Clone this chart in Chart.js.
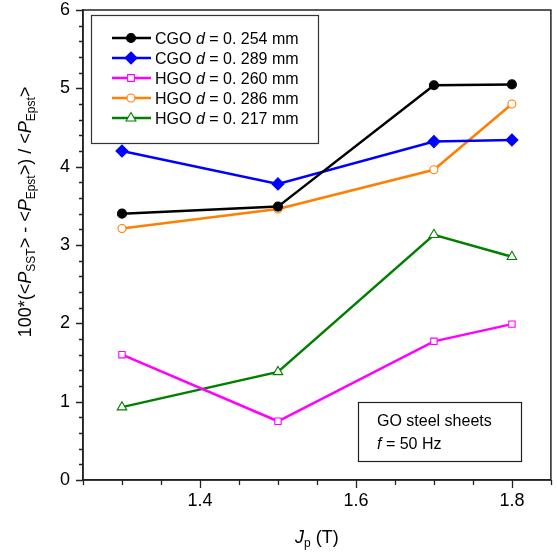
<!DOCTYPE html>
<html>
<head>
<meta charset="utf-8">
<script src="https://cdn.jsdelivr.net/npm/chart.js@4/dist/chart.umd.min.js"></script>
<style>
  html, body { margin: 0; padding: 0; background: #fff; }
  #wrap { width: 558px; height: 557px; }
</style>
</head>
<body>
<div id="wrap"><canvas id="chart-canvas" width="558" height="557"></canvas></div>
<script>
// field values (T)
const jp = [1.3, 1.5, 1.7, 1.8];

// 100*(<P_SST> - <P_Epst>) / <P_Epst>
const cgo254 = [3.40, 3.49, 5.04, 5.05];
const cgo289 = [4.20, 3.78, 4.32, 4.34];
const hgo260 = [1.60, 0.75, 1.77, 1.99];
const hgo286 = [3.21, 3.46, 3.96, 4.80];
const hgo217 = [0.93, 1.38, 3.13, 2.85];

const seriesLabels = ["CGO|0. 254 mm", "CGO|0. 289 mm", "HGO|0. 260 mm", "HGO|0. 286 mm", "HGO|0. 217 mm"];
const xTickLabels = [1.4, 1.6, 1.8];
const yTickLabels = [0, 1, 2, 3, 4, 5, 6];

const FONT = "'Liberation Sans', Arial, sans-serif";

const toPoints = (ys) => {
  return ys.map((y, i) => {
    return { x: jp[i], y: y };
  });
};

const makeSet = (values, label, color, style, filled, radius) => {
  return {
    data: toPoints(values),
    label: label,
    borderColor: color,
    backgroundColor: color,
    borderWidth: 2.5,
    pointStyle: style,
    pointRadius: radius,
    pointBorderWidth: 1.1,
    pointBackgroundColor: filled ? color : "#fff",
    pointBorderColor: color,
    fill: false,
    tension: 0,
  };
};

const near = (v, list) => list.some((t) => Math.abs(v - t) < 1e-6);

// draw text pieces: [text, italic, sub]
const drawRich = (ctx, parts, size, subSize) => {
  let x = 0;
  parts.forEach((p) => {
    let [txt, it, sub] = p;
    ctx.font = (it ? "italic " : "") + (sub ? subSize : size) + "px " + FONT;
    ctx.fillText(txt, x, sub ? 4 : 0);
    x += ctx.measureText(txt).width;
  });
  return x;
};
const measureRich = (ctx, parts, size, subSize) => {
  let w = 0;
  parts.forEach((p) => {
    ctx.font = (p[1] ? "italic " : "") + (p[2] ? subSize : size) + "px " + FONT;
    w += ctx.measureText(p[0]).width;
  });
  return w;
};

const drawShape = (ctx, style, r, x, y) => {
  if (style === "circle") {
    ctx.arc(x, y, r, 0, Math.PI * 2);
  } else if (style === "rect") {
    ctx.rect(x - r * 0.75, y - r * 0.75, r * 1.5, r * 1.5);
  } else if (style === "rectRot") {
    ctx.moveTo(x, y - r);
    ctx.lineTo(x + r, y);
    ctx.lineTo(x, y + r);
    ctx.lineTo(x - r, y);
    ctx.closePath();
  } else if (style === "triangle") {
    ctx.moveTo(x, y - r);
    ctx.lineTo(x + r * 0.9, y + r * 0.55);
    ctx.lineTo(x - r * 0.9, y + r * 0.55);
    ctx.closePath();
  }
};

const decorPlugin = {
  id: "decor",
  afterDraw(chart) {
    const ctx = chart.ctx;
    const a = chart.chartArea;
    const xs = chart.scales.x;
    const ys = chart.scales.y;
    ctx.save();
    // frame
    ctx.strokeStyle = "#222";
    ctx.lineWidth = 1.5;
    ctx.strokeRect(a.left, a.top, a.right - a.left, a.bottom - a.top);

    // tick marks, long on labelled values
    ctx.lineWidth = 1.3;
    ctx.beginPath();
    xs.ticks.forEach((t) => {
      const px = Math.round(xs.getPixelForValue(t.value)) + 0.5;
      const len = near(t.value, xTickLabels) ? 8 : 5;
      ctx.moveTo(px, a.bottom);
      ctx.lineTo(px, a.bottom + len);
    });
    ys.ticks.forEach((t) => {
      const py = Math.round(ys.getPixelForValue(t.value)) + 0.5;
      const len = near(t.value, yTickLabels) ? 7 : 4;
      ctx.moveTo(a.left, py);
      ctx.lineTo(a.left - len, py);
    });
    ctx.stroke();

    ctx.fillStyle = "#000";
    ctx.textAlign = "left";
    ctx.textBaseline = "alphabetic";

    // x title
    const xt = [["J", true, false], ["p", false, true], [" (T)", false, false]];
    const xw = measureRich(ctx, xt, 18, 12);
    ctx.save();
    ctx.translate((a.left + a.right) / 2 - xw / 2, 543);
    drawRich(ctx, xt, 18, 12);
    ctx.restore();

    // y title
    const yt = [
      ["100*(<", false, false], ["P", true, false], ["SST", false, true],
      ["> - <", false, false], ["P", true, false], ["Epst", false, true],
      [">) / <", false, false], ["P", true, false], ["Epst", false, true],
      [">", false, false],
    ];
    const yw = measureRich(ctx, yt, 18, 12);
    ctx.save();
    ctx.translate(31, 212 + yw / 2);
    ctx.rotate(-Math.PI / 2);
    drawRich(ctx, yt, 18, 12);
    ctx.restore();

    // legend box
    ctx.strokeStyle = "#333";
    ctx.lineWidth = 1.2;
    ctx.strokeRect(91.5, 15.5, 227, 128);
    chart.data.datasets.forEach((ds, i) => {
      const y = 38 + i * 20;
      ctx.strokeStyle = ds.borderColor;
      ctx.lineWidth = 2.5;
      ctx.beginPath();
      ctx.moveTo(112, y);
      ctx.lineTo(151, y);
      ctx.stroke();
      ctx.fillStyle = ds.pointBackgroundColor;
      ctx.strokeStyle = ds.pointBorderColor;
      ctx.lineWidth = ds.pointBorderWidth;
      ctx.beginPath();
      drawShape(ctx, ds.pointStyle, ds.pointRadius, 131, y);
      ctx.fill();
      ctx.stroke();
      const [grp, val] = ds.label.split("|");
      ctx.fillStyle = "#000";
      ctx.save();
      ctx.translate(155, y + 6);
      drawRich(ctx, [[grp + " ", false, false], ["d", true, false], [" = " + val, false, false]], 16, 11);
      ctx.restore();
    });

    // note box
    ctx.strokeStyle = "#222";
    ctx.lineWidth = 1.2;
    ctx.strokeRect(358.5, 402.5, 163, 59);
    ctx.fillStyle = "#000";
    ctx.save();
    ctx.translate(377, 426);
    drawRich(ctx, [["GO steel sheets", false, false]], 16, 11);
    ctx.restore();
    ctx.save();
    ctx.translate(377, 449);
    drawRich(ctx, [["f", true, false], [" = 50 Hz", false, false]], 16, 11);
    ctx.restore();
    ctx.restore();
  },
};

let ctx = document.getElementById("chart-canvas");

let chart = new Chart(ctx, {
  type: "line",
  data: {
    datasets: [
      makeSet(cgo254, seriesLabels[0], "#000000", "circle", true, 4.5),
      makeSet(cgo289, seriesLabels[1], "#0000ff", "rectRot", true, 6),
      makeSet(hgo260, seriesLabels[2], "#ff00ff", "rect", false, 4.5),
      makeSet(hgo286, seriesLabels[3], "#ff7f00", "circle", false, 4),
      makeSet(hgo217, seriesLabels[4], "#007f00", "triangle", false, 5.5),
    ],
  },
  options: {
    responsive: false,
    animation: false,
    layout: { padding: { top: 10, right: 5, left: 0, bottom: 0 } },
    plugins: { legend: { display: false }, tooltip: { enabled: false } },
    scales: {
      x: {
        type: "linear",
        min: 1.25,
        max: 1.85,
        afterFit: (s) => {
          s.height = 77;
          s.paddingLeft = 0;
          s.paddingRight = 0;
        },
        border: { display: true, color: "#222", width: 1.5 },
        grid: { display: false, drawTicks: false },
        ticks: {
          stepSize: 0.05,
          autoSkip: false,
          maxRotation: 0,
          padding: 10,
          color: "#000",
          font: { family: FONT, size: 18 },
          callback: (v) => (near(v, xTickLabels) ? v.toFixed(1) : ""),
        },
      },
      y: {
        type: "linear",
        min: 0,
        max: 6,
        afterFit: (s) => {
          s.width = 83;
          s.paddingTop = 0;
          s.paddingBottom = 0;
        },
        border: { display: true, color: "#222", width: 1.5 },
        grid: { display: false, drawTicks: false },
        ticks: {
          stepSize: 0.2,
          autoSkip: false,
          padding: 13,
          color: "#000",
          font: { family: FONT, size: 18 },
          callback: (v) => (near(v, yTickLabels) ? String(Math.round(v)) : ""),
        },
      },
    },
  },
  plugins: [decorPlugin],
});
</script>
</body>
</html>
